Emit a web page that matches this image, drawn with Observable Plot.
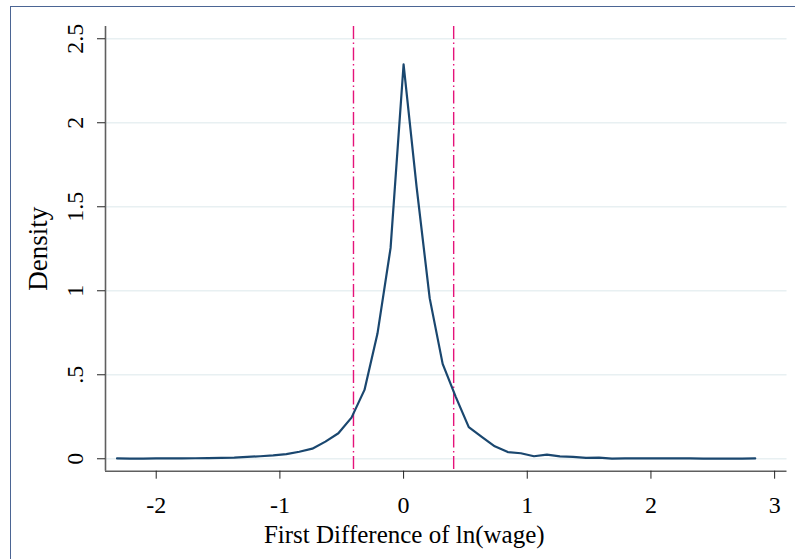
<!DOCTYPE html>
<html>
<head>
<meta charset="utf-8">
<script src="https://cdn.jsdelivr.net/npm/d3@7"></script>
<script src="https://cdn.jsdelivr.net/npm/@observablehq/plot@0.6"></script>
<style>
  html, body { margin: 0; padding: 0; background: #fff; overflow: hidden; }
  #wrap { position: relative; width: 795px; height: 559px; }
  #frame { position: absolute; left: 9.5px; top: 5.5px; width: 900px; height: 700px;
           border-left: 1.6px solid #4b6594; border-top: 1.6px solid #4b6594; pointer-events: none; }
</style>
</head>
<body>
<div id="wrap"><div id="frame"></div></div>
<script>
// Kernel density estimate of first difference of ln(wage) (50 evaluation points)
const xGrid = [-2.317,-2.212,-2.106,-2.001,-1.896,-1.791,-1.685,-1.580,-1.475,-1.369,
               -1.264,-1.159,-1.054,-0.948,-0.843,-0.738,-0.632,-0.527,-0.421,-0.316,
               -0.211,-0.105,0.000,0.105,0.211,0.316,0.421,0.527,0.632,0.737,
               0.843,0.948,1.054,1.159,1.264,1.370,1.475,1.580,1.685,1.791,
               1.896,2.001,2.107,2.212,2.317,2.422,2.528,2.633,2.738,2.843];
const density = [0.002,0.001,0.001,0.002,0.002,0.002,0.003,0.004,0.005,0.007,
                 0.011,0.015,0.020,0.028,0.042,0.060,0.102,0.152,0.245,0.410,
                 0.745,1.255,2.347,1.620,0.956,0.565,0.370,0.188,0.130,0.074,
                 0.040,0.033,0.015,0.025,0.014,0.011,0.005,0.007,0.001,0.002,
                 0.002,0.002,0.002,0.002,0.002,0.001,0.001,0.001,0.001,0.002];
const cutoffs = [-0.405, 0.405];
const xTicks = [-2, -1, 0, 1, 2, 3];
const yTicks = [0, 0.5, 1, 1.5, 2, 2.5];
const xTickLabels = ["-2", "-1", "0", "1", "2", "3"];
const yTickLabels = ["0", ".5", "1", "1.5", "2", "2.5"];
const xDomain = [-2.41, 3.1];
const yDomain = [-0.074, 2.573];
const xTitle = "First Difference of ln(wage)";
const yTitle = "Density";

const data = xGrid.map((x, i) => ({x, y: density[i]}));
const font = "'Liberation Serif', 'DejaVu Serif', serif";

const chart = Plot.plot({
  width: 795,
  height: 559,
  marginLeft: 105,
  marginRight: 8.5,
  marginTop: 26,
  marginBottom: 88.3,
  x: {domain: xDomain},
  y: {domain: yDomain},
  style: {fontFamily: font, background: "transparent", color: "#000"},
  marks: [
    Plot.gridY(yTicks, {stroke: "#e8f0f2", strokeOpacity: 1, strokeWidth: 1.5}),
    Plot.ruleX(cutoffs, {stroke: "#e5137a", strokeWidth: 1.4, strokeDasharray: "13,3.5,1.5,3.5"}),
    Plot.line(data, {x: "x", y: "y", stroke: "#1a476f", strokeWidth: 2.2, curve: "linear"}),
    Plot.ruleX([xDomain[0]], {stroke: "#5f5f5f", strokeWidth: 1.6}),
    Plot.ruleY([yDomain[0]], {stroke: "#5f5f5f", strokeWidth: 1.6}),
    Plot.axisX(xTicks, {tickSize: 8, tickFormat: () => "", label: null, stroke: "#222"}),
    Plot.axisY(yTicks, {tickSize: 8, tickFormat: () => "", label: null, stroke: "#222"}),
    Plot.text(xTicks, {x: d => d, text: (d, i) => xTickLabels[i], frameAnchor: "bottom",
                       textAnchor: "middle", lineAnchor: "top", dy: 25, fontSize: 24}),
    Plot.text(yTicks, {y: d => d, text: (d, i) => yTickLabels[i], frameAnchor: "left",
                       textAnchor: "middle", lineAnchor: "middle", rotate: -90, dx: -30, fontSize: 24}),
    Plot.text([xTitle], {text: d => d, frameAnchor: "bottom", textAnchor: "middle", dx: -42, dy: 54,
                         fontSize: 25, lineAnchor: "top"}),
    Plot.text([yTitle], {text: d => d, frameAnchor: "left", textAnchor: "middle", lineAnchor: "middle",
                         rotate: -90, dx: -67, fontSize: 27})
  ]
});
document.getElementById("wrap").prepend(chart);
</script>
</body>
</html>
